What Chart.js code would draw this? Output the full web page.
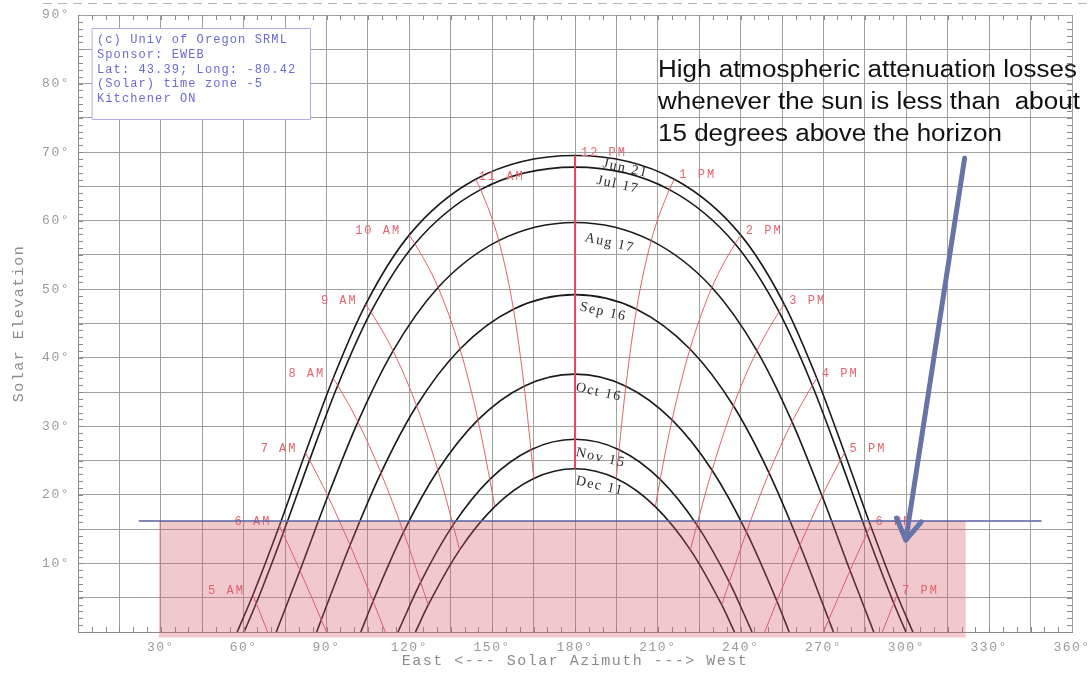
<!DOCTYPE html>
<html>
<head>
<meta charset="utf-8">
<script src="https://cdn.jsdelivr.net/npm/chart.js@4.4.1/dist/chart.umd.min.js"></script>
<style>
  html, body { margin: 0; padding: 0; background: #fff; overflow: hidden; }
  canvas { display: block; }
</style>
</head>
<body>
<canvas id="sunChart" width="1089" height="674"></canvas>
<script>
const dateNames = ['Jun 21', 'Jul 17', 'Aug 17', 'Sep 16', 'Oct 16', 'Nov 15', 'Dec 11'];
const hourNames = ['5 AM', '6 AM', '7 AM', '8 AM', '9 AM', '10 AM', '11 AM', '12 PM',
  '1 PM', '2 PM', '3 PM', '4 PM', '5 PM', '6 PM', '7 PM'];

// sun paths, [azimuth, elevation] from sunrise to sunset
const junPath = [[57.63,0],[63.35,5.40],[72.94,15.50],[82.38,26.14],[92.42,37.01],[104.19,47.79],[119.94,57.89],[144.02,66.04],[180,69.50],[215.98,66.04],[240.06,57.89],[255.81,47.79],[267.58,37.01],[277.62,26.14],[287.06,15.50],[296.65,5.40],[302.37,0]];
const julPath = [[60.16,0],[64.55,4.19],[74.26,14.38],[83.85,25.07],[94.07,35.96],[106.09,46.68],[122.04,56.63],[145.83,64.53],[180,67.81],[214.17,64.53],[237.96,56.63],[253.91,46.68],[265.93,35.96],[276.15,25.07],[285.74,14.38],[295.45,4.19],[299.84,0]];
const augPath = [[71.80,0],[80.39,8.97],[90.50,19.83],[101.38,30.66],[114.10,41.02],[130.41,50.26],[152.39,57.09],[180,59.74],[207.61,57.09],[229.59,50.26],[245.90,41.02],[258.62,30.66],[269.50,19.83],[279.61,8.97],[288.20,0]];
const sepPath = [[86.42,0],[88.11,1.79],[98.52,12.66],[109.73,23.21],[122.64,33.00],[138.36,41.29],[157.71,47.09],[180,49.21],[202.29,47.09],[221.64,41.29],[237.36,33.00],[250.27,23.21],[261.48,12.66],[271.89,1.79],[273.58,0]];
const octPath = [[102.43,0],[106.87,4.49],[117.90,14.56],[130.36,23.59],[144.85,30.94],[161.58,35.86],[180,37.61],[198.42,35.86],[215.15,30.94],[229.64,23.59],[242.10,14.56],[253.13,4.49],[257.57,0]];
const novPath = [[115.89,0],[124.11,7.27],[135.86,15.62],[149.15,22.26],[164.04,26.59],[180,28.11],[195.96,26.59],[210.85,22.26],[224.14,15.62],[235.89,7.27],[244.11,0]];
const decPath = [[122.22,0],[126.85,3.94],[138.21,11.98],[150.94,18.29],[165.06,22.39],[180,23.81],[194.94,22.39],[209.06,18.29],[221.79,11.98],[233.15,3.94],[237.78,0]];
const datePaths = [junPath, julPath, augPath, sepPath, octPath, novPath, decPath];

// hour lines, Jun -> Dec (ends at horizon where the sun is down)
const hourLines = [
  [[63.35,5.40],[64.55,4.19],[68.7,0]],
  [[72.94,15.50],[74.26,14.38],[80.39,8.97],[88.11,1.79],[90.0,0]],
  [[82.38,26.14],[83.85,25.07],[90.50,19.83],[98.52,12.66],[106.87,4.49],[111.3,0]],
  [[92.42,37.01],[94.07,35.96],[101.38,30.66],[109.73,23.21],[117.90,14.56],[124.11,7.27],[126.85,3.94]],
  [[104.19,47.79],[106.09,46.68],[114.10,41.02],[122.64,33.00],[130.36,23.59],[135.86,15.62],[138.21,11.98]],
  [[119.94,57.89],[122.04,56.63],[130.41,50.26],[138.36,41.29],[144.85,30.94],[149.15,22.26],[150.94,18.29]],
  [[144.02,66.04],[145.83,64.53],[152.39,57.09],[157.71,47.09],[161.58,35.86],[164.04,26.59],[165.06,22.39]],
  [[180,69.50],[180,67.81],[180,59.74],[180,49.21],[180,37.61],[180,28.11],[180,23.81]],
  [[215.98,66.04],[214.17,64.53],[207.61,57.09],[202.29,47.09],[198.42,35.86],[195.96,26.59],[194.94,22.39]],
  [[240.06,57.89],[237.96,56.63],[229.59,50.26],[221.64,41.29],[215.15,30.94],[210.85,22.26],[209.06,18.29]],
  [[255.81,47.79],[253.91,46.68],[245.90,41.02],[237.36,33.00],[229.64,23.59],[224.14,15.62],[221.79,11.98]],
  [[267.58,37.01],[265.93,35.96],[258.62,30.66],[250.27,23.21],[242.10,14.56],[235.89,7.27],[233.15,3.94]],
  [[277.62,26.14],[276.15,25.07],[269.50,19.83],[261.48,12.66],[253.13,4.49],[248.7,0]],
  [[287.06,15.50],[285.74,14.38],[279.61,8.97],[271.89,1.79],[270.0,0]],
  [[296.65,5.40],[295.45,4.19],[291.3,0]]
];

const infoLines = ['(c) Univ of Oregon SRML', 'Sponsor: EWEB', 'Lat: 43.39; Long: -80.42', '(Solar) time zone -5', 'Kitchener ON'];
const noteLines = ['High atmospheric attenuation losses', 'whenever the sun is less than  about', '15 degrees above the horizon'];

// low sun zone and arrow, in azimuth / elevation
const lowZone = { az0: 29.3, az1: 321.5, el0: -0.8, el1: 16.2 };
const limitLine = { az0: 22, az1: 349, el: 16.2 };
const arrow = { az0: 321.1, el0: 69.1, az1: 299.8, el1: 13.4 };

const toXY = pts => pts.map(p => ({ x: p[0], y: p[1] }));

const datasets = [];
hourLines.forEach((pts, i) => {
  const noon = hourNames[i] === '12 PM';
  datasets.push({
    data: toXY(pts),
    borderColor: noon ? 'rgb(232,70,95)' : 'rgb(226,95,105)',
    borderWidth: noon ? 2 : 1,
    cubicInterpolationMode: 'monotone'
  });
});
datePaths.forEach(pts => {
  datasets.push({
    data: toXY(pts),
    borderColor: '#1a1a1a',
    borderWidth: 1.6,
    cubicInterpolationMode: 'monotone'
  });
});

const spacing = {
  id: 'spacing',
  beforeUpdate(chart) { chart.ctx.letterSpacing = '1.5px'; },
  beforeDraw(chart) {
    const ctx = chart.ctx;
    ctx.letterSpacing = '1.5px';
    // dashed line along the top of the slide
    ctx.save();
    ctx.strokeStyle = '#a9b8c6';
    ctx.lineWidth = 1;
    ctx.setLineDash([9, 6]);
    ctx.beginPath();
    ctx.moveTo(43, 3.5);
    ctx.lineTo(1089, 3.5);
    ctx.stroke();
    ctx.restore();
  }
};

const overlay = {
  id: 'overlay',
  afterDatasetsDraw(chart) {
    const ctx = chart.ctx;
    const xs = chart.scales.x, ys = chart.scales.y;
    const px = v => xs.getPixelForValue(v);
    const py = v => ys.getPixelForValue(v);
    const area = chart.chartArea;

    ctx.save();
    // minor ticks
    ctx.strokeStyle = '#8a8a8a';
    ctx.lineWidth = 1;
    ctx.beginPath();
    for (let e = 1; e < 90; e++) {
      const y = Math.round(py(e)) + 0.5;
      ctx.moveTo(area.left, y); ctx.lineTo(area.left + 5, y);
      ctx.moveTo(area.right, y); ctx.lineTo(area.right - 5, y);
    }
    for (let a = 5; a < 360; a += 5) {
      const x = Math.round(px(a)) + 0.5;
      ctx.moveTo(x, area.bottom); ctx.lineTo(x, area.bottom - 5);
      ctx.moveTo(x, area.top); ctx.lineTo(x, area.top + 5);
    }
    ctx.stroke();

    // hour labels
    ctx.letterSpacing = '2px';
    ctx.font = '12px "Liberation Mono"';
    ctx.fillStyle = 'rgb(230,100,110)';
    ctx.textBaseline = 'middle';
    hourLines.forEach((pts, i) => {
      const x = px(pts[0][0]), y = py(pts[0][1]);
      if (i < 6) {
        ctx.textAlign = 'right';
        ctx.fillText(hourNames[i], x - 8, y - 4);
      } else if (i === 6) {
        ctx.textAlign = 'left';
        ctx.fillText(hourNames[i], x + 3, y - 2);
      } else if (i === 7) {
        ctx.textAlign = 'left';
        ctx.fillText(hourNames[i], x + 6, y - 3);
      } else {
        ctx.textAlign = 'left';
        ctx.fillText(hourNames[i], x + 5, y - 4);
      }
    });

    // date labels, tilted along the curves
    const dx = [28, 22, 10, 5, 1, 1, 1];
    const dy = [8, 13, 15, 12, 13, 13, 12];
    ctx.letterSpacing = '1.5px';
    ctx.font = '14px "Liberation Serif"';
    ctx.fillStyle = '#2b2b2b';
    ctx.textAlign = 'left';
    datePaths.forEach((pts, i) => {
      const top = pts.reduce((m, p) => (p[1] > m[1] ? p : m), pts[0]);
      ctx.save();
      ctx.translate(px(top[0]) + dx[i], py(top[1]) + dy[i]);
      ctx.rotate(0.22);
      ctx.fillText(dateNames[i], 0, 0);
      ctx.restore();
    });

    // low sun zone
    ctx.fillStyle = 'rgba(214,92,102,0.33)';
    const rx = px(lowZone.az0), ry = py(lowZone.el1);
    ctx.fillRect(rx, ry, px(lowZone.az1) - rx, py(lowZone.el0) - ry);

    ctx.strokeStyle = 'rgb(88,98,160)';
    ctx.lineWidth = 1.5;
    ctx.beginPath();
    ctx.moveTo(px(limitLine.az0), py(limitLine.el));
    ctx.lineTo(px(limitLine.az1), py(limitLine.el));
    ctx.stroke();

    // arrow
    const ax0 = px(arrow.az0), ay0 = py(arrow.el0), ax1 = px(arrow.az1), ay1 = py(arrow.el1);
    const ang = Math.atan2(ay1 - ay0, ax1 - ax0);
    ctx.strokeStyle = 'rgb(104,116,168)';
    ctx.lineWidth = 5;
    ctx.lineCap = 'round';
    ctx.lineJoin = 'round';
    ctx.beginPath();
    ctx.moveTo(ax0, ay0);
    ctx.lineTo(ax1, ay1);
    ctx.moveTo(ax1 - 24 * Math.cos(ang - 0.55), ay1 - 24 * Math.sin(ang - 0.55));
    ctx.lineTo(ax1, ay1);
    ctx.lineTo(ax1 - 24 * Math.cos(ang + 0.55), ay1 - 24 * Math.sin(ang + 0.55));
    ctx.stroke();

    // info box
    const bx = area.left + 14, by = area.top + 13;
    ctx.fillStyle = '#fff';
    ctx.fillRect(bx, by, 218, 91);
    ctx.strokeStyle = '#aeaee6';
    ctx.lineWidth = 1;
    ctx.strokeRect(bx + 0.5, by + 0.5, 218, 91);
    ctx.letterSpacing = '1.1px';
    ctx.font = '12px "Liberation Mono"';
    ctx.fillStyle = '#6a6ad0';
    ctx.textAlign = 'left';
    ctx.textBaseline = 'middle';
    infoLines.forEach((t, i) => ctx.fillText(t, bx + 5, by + 12 + i * 14.7));

    // note text
    ctx.letterSpacing = '0px';
    ctx.font = '23px "Liberation Sans"';
    ctx.fillStyle = '#111';
    ctx.textBaseline = 'alphabetic';
    noteLines.forEach((t, i) => {
      ctx.save();
      ctx.translate(658, 77 + i * 32);
      ctx.scale(1.13, 1);
      ctx.fillText(t, 0, 0);
      ctx.restore();
    });
    ctx.restore();
  }
};

new Chart(document.getElementById('sunChart'), {
  type: 'scatter',
  data: { datasets: datasets },
  options: {
    responsive: false,
    animation: false,
    devicePixelRatio: 1,
    showLine: true,
    elements: { point: { radius: 0 } },
    layout: { padding: { left: 0, right: 17, top: 15, bottom: 0 } },
    plugins: { legend: { display: false }, tooltip: { enabled: false } },
    scales: {
      x: {
        type: 'linear',
        min: 0,
        max: 360,
        afterFit: s => { s.height = 42; s.paddingLeft = 0; s.paddingRight = 0; },
        grid: { color: '#a0a0a0', drawTicks: false },
        border: { color: '#8a8a8a' },
        ticks: {
          stepSize: 15,
          padding: 8,
          autoSkip: false,
          maxRotation: 0,
          minRotation: 0,
          color: '#9a9a9a',
          font: { family: 'Liberation Mono', size: 13 },
          callback: v => (v > 0 && v % 30 === 0 ? v + '°' : '')
        },
        title: {
          display: true,
          text: 'East <--- Solar Azimuth ---> West',
          color: '#8c8c8c',
          font: { family: 'Liberation Mono', size: 15 },
          padding: { top: 0, bottom: 4 }
        }
      },
      y: {
        type: 'linear',
        min: 0,
        max: 90,
        afterFit: s => { s.width = 78; s.paddingTop = 0; s.paddingBottom = 0; },
        grid: { color: '#a0a0a0', drawTicks: false },
        border: { color: '#8a8a8a' },
        ticks: {
          stepSize: 5,
          padding: 8,
          autoSkip: false,
          color: '#9a9a9a',
          font: { family: 'Liberation Mono', size: 13 },
          callback: v => (v > 0 && v % 10 === 0 ? v + '°' : '')
        },
        title: {
          display: true,
          text: 'Solar Elevation',
          color: '#8c8c8c',
          font: { family: 'Liberation Mono', size: 15 },
          padding: { top: 10, bottom: 4 }
        }
      }
    }
  },
  plugins: [spacing, overlay]
});
</script>
</body>
</html>
